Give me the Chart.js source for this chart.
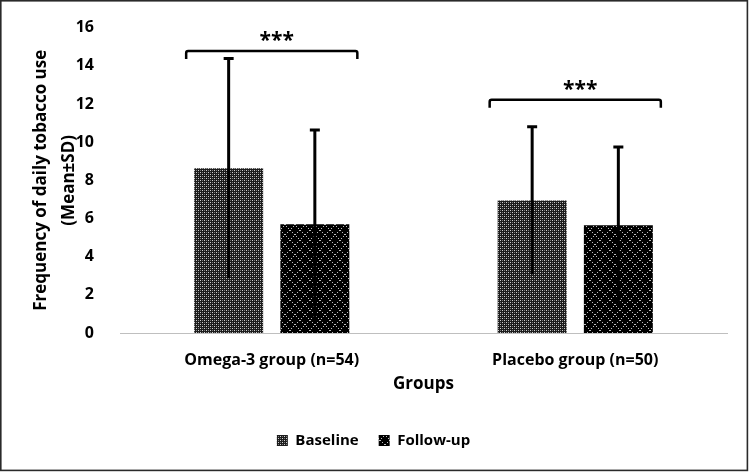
<!DOCTYPE html>
<html>
<head>
<meta charset="utf-8">
<script src="https://cdn.jsdelivr.net/npm/chart.js@4.4.1/dist/chart.umd.min.js"></script>
<style>
  html, body { margin: 0; padding: 0; background: #fff; }
  #wrap { width: 750px; height: 473px; position: relative; }
</style>
</head>
<body>
<div id="wrap"><canvas id="c" width="750" height="473"></canvas></div>
<script>
// ---- data ----
const categories = ['Omega-3 group (n=54)', 'Placebo group (n=50)'];
const seriesNames = ['Baseline', 'Follow-up'];
const baselineMean = [8.63, 6.94];
const baselineSD = [5.75, 3.86];
const followupMean = [5.70, 5.65];
const followupSD = [4.93, 4.10];
const significance = ['***', '***'];
const bracketLevels = [14.77, 12.22];
const yMin = 0, yMax = 16, yStep = 2;
const yTitle = ['Frequency of daily tobacco use', '(Mean\u00B1SD)'];
const xTitle = 'Groups';

const FONT = '"Open Sans", Lato, sans-serif';

function makePattern(kind) {
  const c = document.createElement('canvas');
  const ctx = c.getContext('2d');
  if (kind === 'fine') {
    c.width = 4; c.height = 4;
    ctx.fillStyle = '#1c1c1c'; ctx.fillRect(0, 0, 4, 4);
    ctx.fillStyle = '#d0d0d0';
    ctx.fillRect(0, 0, 1, 1); ctx.fillRect(2, 2, 1, 1);
    ctx.fillStyle = '#7a7a7a';
    ctx.fillRect(2, 0, 1, 1); ctx.fillRect(0, 2, 1, 1);
  } else {
    c.width = 10; c.height = 10;
    ctx.fillStyle = '#000'; ctx.fillRect(0, 0, 10, 10);
    ctx.fillStyle = '#bdbdbd';
    for (let i = 0; i < 10; i += 1) {
      if (i % 2 === 0) {
        ctx.fillRect(i, i, 1, 1);
        ctx.fillRect(9 - i, i, 1, 1);
      }
    }
  }
  return c.getContext('2d').createPattern(c, 'repeat');
}
const patBase = makePattern('fine');
const patFollow = makePattern('diamond');

const sdArrays = [baselineSD, followupSD];

const plugins = [{
  id: 'bgBorder',
  afterLayout(chart) {
    // centre legend items (Chart.js counts a trailing item gap)
    if (chart.legend) { chart.legend.left += 10; chart.legend.right += 10; }
  },
  beforeDraw(chart) {
    const ctx = chart.ctx;
    ctx.save();
    ctx.fillStyle = '#fff';
    ctx.fillRect(0, 0, chart.width, chart.height);
    ctx.restore();
  },
  afterDraw(chart) {
    const ctx = chart.ctx;
    ctx.save();
    ctx.strokeStyle = '#2a2a2a';
    ctx.lineWidth = 1.6;
    ctx.strokeRect(0.8, 0.8, 746.6, 469.6);
    ctx.restore();
  }
}, {
  id: 'errorBars',
  afterDatasetsDraw(chart) {
    const ctx = chart.ctx;
    const y = chart.scales.y;
    ctx.save();
    ctx.strokeStyle = '#000';
    ctx.lineWidth = 3;
    chart.data.datasets.forEach((ds, di) => {
      const meta = chart.getDatasetMeta(di);
      meta.data.forEach((bar, i) => {
        const m = ds.data[i], sd = sdArrays[di][i];
        const yt = y.getPixelForValue(m + sd);
        const yb = y.getPixelForValue(m - sd);
        ctx.beginPath();
        ctx.moveTo(bar.x, yb);
        ctx.lineTo(bar.x, yt);
        ctx.moveTo(bar.x - 5, yt);
        ctx.lineTo(bar.x + 5, yt);
        ctx.stroke();
      });
    });
    // significance brackets
    const x = chart.scales.x;
    const catW = (x.right - x.left) / categories.length;
    ctx.lineWidth = 2.5;
    categories.forEach((c, i) => {
      const cx = x.getPixelForValue(i);
      const x0 = cx - catW * 0.282, x1 = cx + catW * 0.282;
      const by = y.getPixelForValue(bracketLevels[i]);
      const drop = 8;
      ctx.beginPath();
      ctx.moveTo(x0, by + drop);
      ctx.lineTo(x0, by + 2);
      ctx.quadraticCurveTo(x0, by, x0 + 2, by);
      ctx.lineTo(x1 - 2, by);
      ctx.quadraticCurveTo(x1, by, x1, by + 2);
      ctx.lineTo(x1, by + drop);
      ctx.stroke();
      ctx.fillStyle = '#000';
      ctx.font = 'bold 21px ' + FONT;
      ctx.textAlign = 'center';
      ctx.textBaseline = 'alphabetic';
      ctx.fillText(significance[i], cx + 5, by - 4);
    });
    ctx.restore();
  }
}];

new Chart(document.getElementById('c'), {
  type: 'bar',
  data: {
    labels: categories,
    datasets: [
      { label: seriesNames[0], data: baselineMean, backgroundColor: patBase, borderWidth: 0,
        categoryPercentage: 0.568, barPercentage: 0.80 },
      { label: seriesNames[1], data: followupMean, backgroundColor: patFollow, borderWidth: 0,
        categoryPercentage: 0.568, barPercentage: 0.80 }
    ]
  },
  options: {
    responsive: false,
    animation: false,
    devicePixelRatio: 1,
    layout: { padding: { left: 0, right: 23, top: 23, bottom: 15 } },
    plugins: {
      legend: {
        position: 'bottom',
        labels: {
          boxWidth: 11, boxHeight: 11, padding: 20, color: '#000',
          font: { family: FONT, size: 15, weight: 'bold' }
        }
      },
      tooltip: { enabled: false }
    },
    scales: {
      x: {
        grid: { display: false },
        border: { display: true, color: '#bfbfbf', width: 1 },
        ticks: { color: '#000', padding: 10, font: { family: FONT, size: 16, weight: 'bold' } },
        title: { display: true, text: xTitle, color: '#000', padding: { top: 0, bottom: 19 },
                 font: { family: FONT, size: 17, weight: 'bold' } },
        afterFit(s) { s.height = 80; }
      },
      y: {
        min: yMin, max: yMax,
        grid: { display: false },
        border: { display: false },
        ticks: { stepSize: yStep, color: '#000', padding: 18, font: { family: FONT, size: 16, weight: 'bold' } },
        title: { display: true, text: yTitle, color: '#000', padding: { top: 28, bottom: 0 },
                 font: { family: FONT, size: 17, weight: 'bold', lineHeight: 1.6 } },
        afterFit(s) { s.width = 120; }
      }
    }
  },
  plugins
});
</script>
</body>
</html>
